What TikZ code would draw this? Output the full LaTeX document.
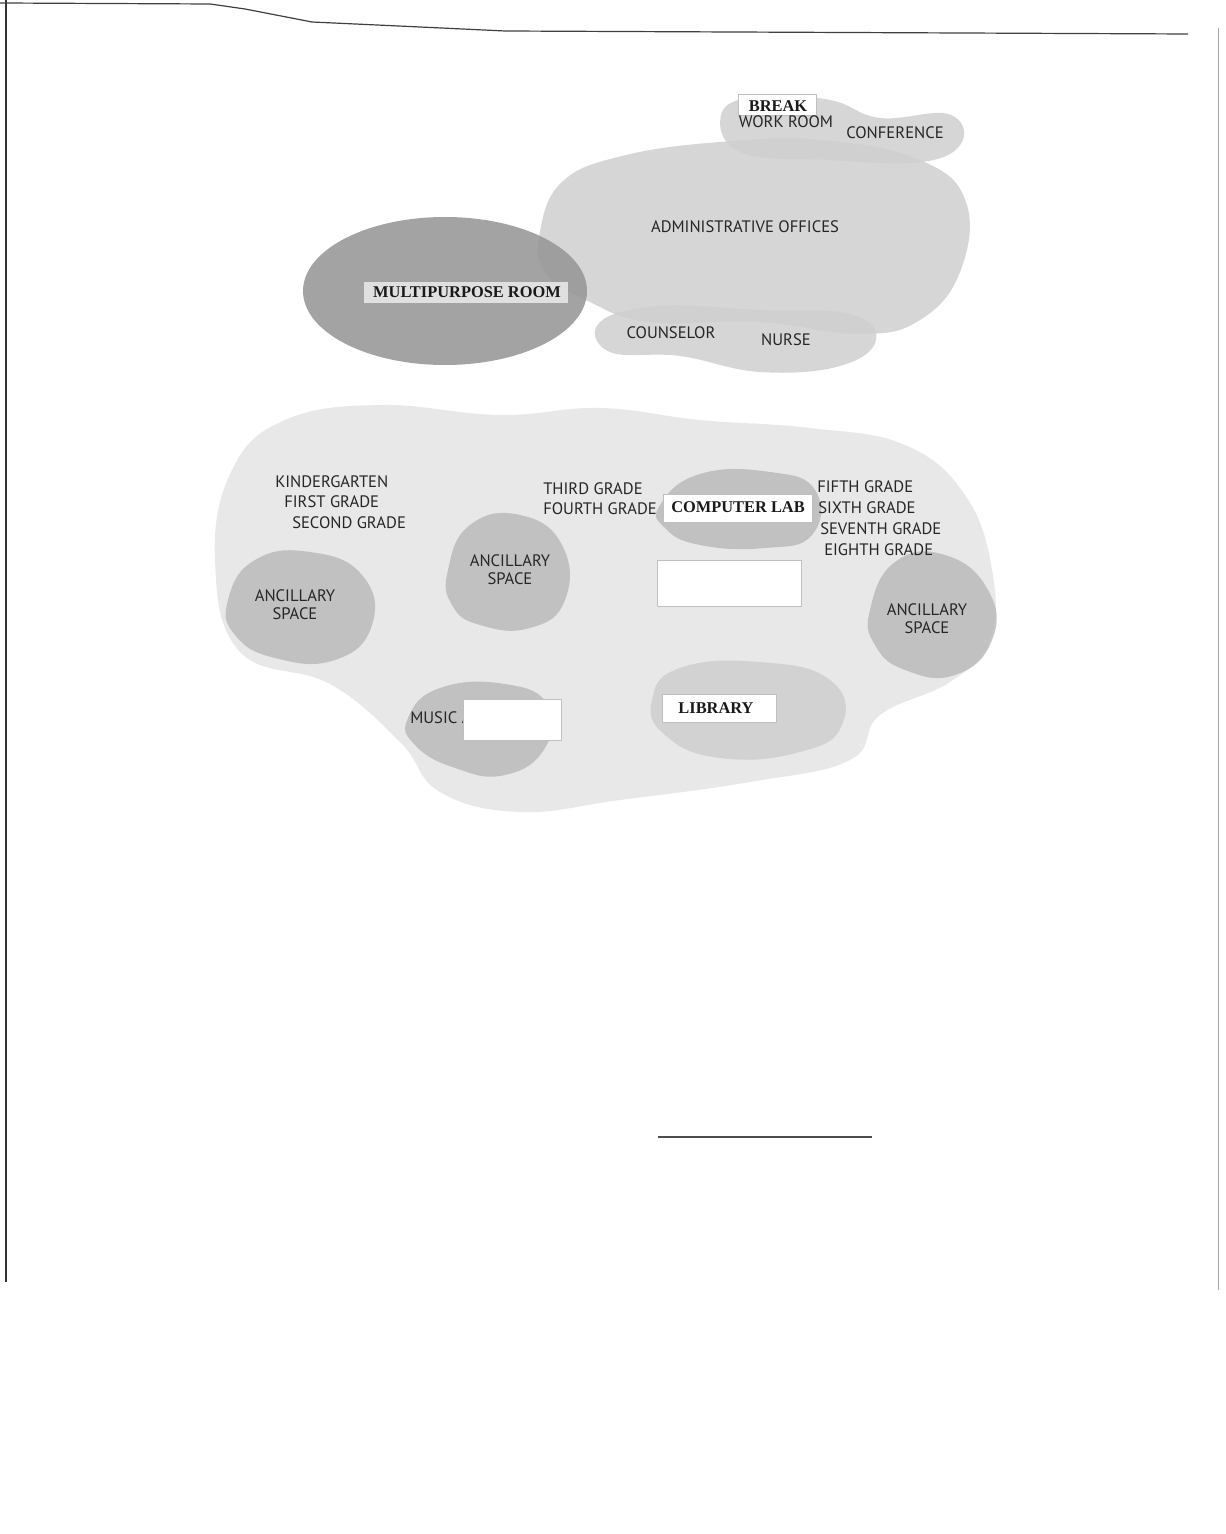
\documentclass[tikz,border=0pt]{standalone}
\usepackage{fontspec}
\setmainfont{PT Sans}
\newfontfamily\roomserif{Liberation Serif}
\tikzset{every picture/.style={line width=0.75pt}}
\tikzset{
  roomtext/.style={inner sep=0.75pt, font=\fontsize{8.3}{9}\selectfont, text=black!85},
  roomtitle/.style={inner sep=0.75pt, font=\roomserif\bfseries\fontsize{8.2}{9}\selectfont, text=black!90},
  blob/.style={fill=black!19, draw=none, opacity=0.85},
  darkblob/.style={fill=black!28, draw=none, opacity=0.8},
  lightblob/.style={fill=black!9, draw=none},
  whitebox/.style={fill=white, draw=black!25, line width=0.4pt},
}

\begin{document}
\begin{tikzpicture}[x=0.5pt,y=0.5pt,yscale=-1,xscale=1]
\useasboundingbox (0,0) rectangle (1225,1534);
\fill[white] (0,0) rectangle (1225,1534);

%Straight Lines [id:page border left]
\draw [line width=1.4pt, color=black!80]  (6,0) -- (6,1282) ;
%Straight Lines [id:page border right]
\draw [line width=0.5pt, color=black!35]  (1218,28) -- (1218,1290) ;
%Straight Lines [id:page border top]
\draw [line width=0.6pt, color=black!75]  (0,3) -- (210,4) -- (245,9) -- (312,22) -- (420,27) -- (505,31) -- (1188,34) ;
%Straight Lines [id:page mark bottom]
\draw [line width=0.6pt, color=black!70]  (658,1137) -- (872,1137) ;

%Shape: Cloud [id:classrooms]
\draw [lightblob] plot [smooth cycle, tension=0.7] coordinates {(215,560) (232,470) (285,420) (380,405) (500,415) (600,408) (700,420) (810,428) (905,445) (965,495) (992,570) (990,640) (950,682) (880,715) (850,760) (750,782) (620,800) (520,812) (440,792) (400,742) (330,684) (240,652)};
%Shape: Cloud [id:administrative]
\draw [blob] plot [smooth cycle, tension=0.7] coordinates {(540,232) (562,182) (622,156) (720,142) (822,140) (920,160) (966,202) (960,272) (920,320) (860,334) (760,322) (650,322) (590,302) (545,272)};
%Shape: Cloud [id:break work]
\draw [blob] plot [smooth cycle, tension=0.7] coordinates {(722,112) (762,96) (830,100) (880,118) (948,114) (962,142) (922,162) (830,160) (740,152)};
%Shape: Cloud [id:counselor nurse]
\draw [blob] plot [smooth cycle, tension=0.7] coordinates {(600,322) (660,306) (760,310) (850,314) (876,340) (840,366) (760,372) (680,356) (610,352)};
%Shape: Ellipse [id:multipurpose]
\draw [fill=black!40, draw=none, opacity=0.9] (445,291) ellipse [x radius=142, y radius=74] ;

%Shape: Cloud [id:ancillary left]
\draw [darkblob] plot [smooth cycle, tension=0.8] coordinates {(228,600) (255,560) (310,552) (362,575) (372,625) (335,660) (275,658) (235,635)};
%Shape: Cloud [id:ancillary middle]
\draw [darkblob] plot [smooth cycle, tension=0.8] coordinates {(448,570) (470,525) (520,515) (562,545) (565,600) (530,628) (480,625) (452,605)};
%Shape: Cloud [id:ancillary right]
\draw [darkblob] plot [smooth cycle, tension=0.8] coordinates {(870,610) (895,562) (945,555) (988,590) (992,640) (955,675) (905,670) (875,645)};
%Shape: Cloud [id:computer lab]
\draw [darkblob] plot [smooth cycle, tension=0.8] coordinates {(660,505) (700,474) (770,472) (815,490) (812,535) (765,548) (700,545) (665,528)};
%Shape: Cloud [id:music]
\draw [darkblob] plot [smooth cycle, tension=0.8] coordinates {(408,718) (440,688) (505,684) (548,705) (545,748) (505,775) (455,768) (415,745)};
%Shape: Cloud [id:library]
\draw [blob] plot [smooth cycle, tension=0.8] coordinates {(652,700) (680,668) (760,662) (830,680) (842,725) (800,752) (720,758) (665,735)};

%Shape: Rectangle [id:break box]
\draw [whitebox] (738,94) rectangle (816,115) ;
%Shape: Rectangle [id:multipurpose box]
\draw [fill=black!12, draw=none] (364,282) rectangle (568,303) ;
%Shape: Rectangle [id:computer lab box]
\draw [whitebox] (663,494) rectangle (812,522) ;
%Shape: Rectangle [id:blank box]
\draw [whitebox] (657,560) rectangle (801,606) ;
%Shape: Rectangle [id:library box]
\draw [whitebox] (662,694) rectangle (776,722) ;

% Text Node
\draw (778,106) node [roomtitle] (break) {BREAK};
% Text Node
\draw (786,122) node [roomtext] (workroom) {WORK ROOM};
% Text Node
\draw (895,133) node [roomtext] (conference) {CONFERENCE};
% Text Node
\draw (745,227) node [roomtext] (admin) {ADMINISTRATIVE OFFICES};
% Text Node
\draw (467,292) node [roomtitle] (multipurpose) {MULTIPURPOSE ROOM};
% Text Node
\draw (671,333) node [roomtext] (counselor) {COUNSELOR};
% Text Node
\draw (786,340) node [roomtext] (nurse) {NURSE};
% Text Node
\draw (273,482) node [roomtext, anchor=west] (kinder) {KINDERGARTEN};
% Text Node
\draw (282,502) node [roomtext, anchor=west] (first) {FIRST GRADE};
% Text Node
\draw (290,523) node [roomtext, anchor=west] (second) {SECOND GRADE};
% Text Node
\draw (541,489) node [roomtext, anchor=west] (third) {THIRD GRADE};
% Text Node
\draw (541,509) node [roomtext, anchor=west] (fourth) {FOURTH GRADE};
% Text Node
\draw (738,507) node [roomtitle] (complab) {COMPUTER LAB};
% Text Node
\draw (815,487) node [roomtext, anchor=west] (fifth) {FIFTH GRADE};
% Text Node
\draw (816,508) node [roomtext, anchor=west] (sixth) {SIXTH GRADE};
% Text Node
\draw (818,529) node [roomtext, anchor=west] (seventh) {SEVENTH GRADE};
% Text Node
\draw (822,550) node [roomtext, anchor=west] (eighth) {EIGHTH GRADE};
% Text Node
\draw (510,570) node [roomtext, align=center] (ancmid) {ANCILLARY\\SPACE};
% Text Node
\draw (295,605) node [roomtext, align=center] (ancleft) {ANCILLARY\\SPACE};
% Text Node
\draw (927,619) node [roomtext, align=center] (ancright) {ANCILLARY\\SPACE};
% Text Node
\draw (408,718) node [roomtext, anchor=west] (music) {MUSIC A};
%Shape: Rectangle [id:music box]
\draw [whitebox] (463,699) rectangle (561,740) ;
% Text Node
\draw (716,708) node [roomtitle] (library) {LIBRARY};

\end{tikzpicture}
\end{document}
